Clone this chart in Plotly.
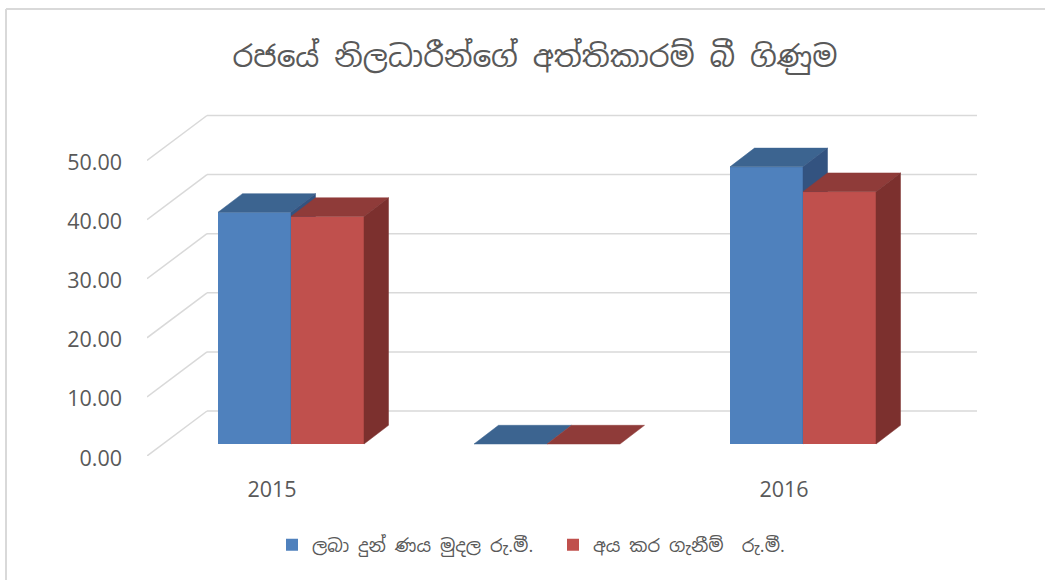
import plotly.graph_objects as go

title_text = "රජයේ නිලධාරීන්ගේ අත්තිකාරම් බී ගිණුම"
categories = ["2015", "", "2016"]
series_names = ["ලබා දුන් ණය මුදල රු.මී.", "අය කර ගැනීම්  රු.මී."]
issued = [39.2, 0.0, 46.9]
recovered = [38.5, 0.0, 42.7]
y_ticks = [0, 10, 20, 30, 40, 50]

W, H = 1045, 580
L, R, T, B = 147, 977, 114, 456          # plot rectangle, pixels
PX_X = 256.0                              # pixels per category
PX_Y = 59.1 / 10                          # pixels per value unit
WALL_DX, WALL_DY = 60 / PX_X, 45 / PX_Y   # depth of the chart box
BAR_DX0, BAR_DY0 = 19 / PX_X, 12 / PX_Y   # front of a bar behind the front plane
BAR_DX, BAR_DY = 24.5 / PX_X, 18.7 / PX_Y # depth of a bar
BAR_W = 73 / PX_X
X_LOW = (L - 272) / PX_X
X_RANGE = [X_LOW, X_LOW + (R - L) / PX_X]
Y_RANGE = [0, (B - T) / PX_Y]
GRID = "#d9d9d9"
TEXT = "#595959"
FONT = "Noto Sans Sinhala, Iskoola Pota, Noto Sans, sans-serif"
LABEL_FONT = "Open Sans, Noto Sans, sans-serif"


def poly(xs, ys, color, xa, ya):
    return go.Scatter(x=xs, y=ys, mode="lines", fill="toself", fillcolor=color,
                      line=dict(color=color, width=0.5), hoverinfo="skip",
                      showlegend=False, xaxis=xa, yaxis=ya)


def add_series(fig, values, name, side, front, top, dark, xa, ya):
    # side: -1 -> left bar of the pair, 0 -> right bar
    lefts = [i + BAR_DX0 + side * BAR_W for i in range(len(values))]
    fig.add_trace(go.Bar(x=lefts, y=values, base=BAR_DY0, width=BAR_W, offset=0,
                         name=name, marker=dict(color=front, line=dict(width=0)),
                         xaxis=xa, yaxis=ya))
    for x0, v in zip(lefts, values):
        y0 = BAR_DY0 + v
        x1 = x0 + BAR_W
        fig.add_trace(poly([x0, x0 + BAR_DX, x1 + BAR_DX, x1, x0],
                           [y0, y0 + BAR_DY, y0 + BAR_DY, y0, y0], top, xa, ya))
        if v > 0:
            fig.add_trace(poly([x1, x1 + BAR_DX, x1 + BAR_DX, x1, x1],
                               [y0, y0 + BAR_DY, BAR_DY0 + BAR_DY, BAR_DY0, y0], dark, xa, ya))


fig = go.Figure()
add_series(fig, issued, series_names[0], -1, "#4f81bd", "#3c6490", "#335380", "x", "y")
add_series(fig, recovered, series_names[1], 0, "#c0504d", "#8f3b39", "#7c302e", "x2", "y2")

shapes = []
line = dict(color=GRID, width=1.5)
x_front, x_back, x_end = X_RANGE[0], X_RANGE[0] + WALL_DX, X_RANGE[1]
for t in y_ticks:
    shapes.append(dict(type="line", xref="x", yref="y", x0=x_front, y0=t,
                       x1=x_back, y1=t + WALL_DY, line=line, layer="below"))
    shapes.append(dict(type="line", xref="x", yref="y", x0=x_back, y0=t + WALL_DY,
                       x1=x_end, y1=t + WALL_DY, line=line, layer="below"))
# outer frame of the picture (top and left edges only are visible)
frame = dict(color="#d9d9d9", width=2)
shapes.append(dict(type="line", xref="paper", yref="paper",
                   x0=-141 / (R - L), y0=(B - 9) / (B - T), x1=(W - L) / (R - L), y1=(B - 9) / (B - T), line=frame))
shapes.append(dict(type="line", xref="paper", yref="paper",
                   x0=-141 / (R - L), y0=(B - 9) / (B - T), x1=-141 / (R - L), y1=(B - H) / (B - T), line=frame))

fig.update_layout(
    width=W, height=H, autosize=False,
    margin=dict(l=L, r=W - R, t=T, b=H - B, pad=0),
    paper_bgcolor="white", plot_bgcolor="white",
    barmode="overlay", shapes=shapes,
    title=dict(text=title_text, x=535 / W, xanchor="center", y=1 - 57 / H, yanchor="middle",
               font=dict(family=FONT, size=29.6, color=TEXT)),
    legend=dict(orientation="h", x=(553 - L) / (R - L), xanchor="center",
                y=(B - 545) / (B - T), yanchor="middle",
                font=dict(family=FONT, size=18, color=TEXT), itemwidth=30,
                entrywidth=236, entrywidthmode="pixels"),
    xaxis=dict(range=X_RANGE, tickmode="array", tickvals=list(range(len(categories))),
               ticktext=categories, showgrid=False, zeroline=False, showline=False,
               ticks="", ticklabelstandoff=18, tickfont=dict(family=LABEL_FONT, size=21.5, color=TEXT)),
    yaxis=dict(range=Y_RANGE, tickmode="array", tickvals=y_ticks, tickformat=".2f",
               showgrid=False, zeroline=False, showline=False, ticks="",
               ticklabelstandoff=24, ticklabelshift=2,
               tickfont=dict(family=LABEL_FONT, size=21.5, color=TEXT)),
    xaxis2=dict(range=X_RANGE, overlaying="x", visible=False),
    yaxis2=dict(range=Y_RANGE, overlaying="y", visible=False),
)

fig.write_html("out.html", config={"displayModeBar": False},
               post_script="document.body.style.margin='0';document.documentElement.style.overflow='hidden';")
